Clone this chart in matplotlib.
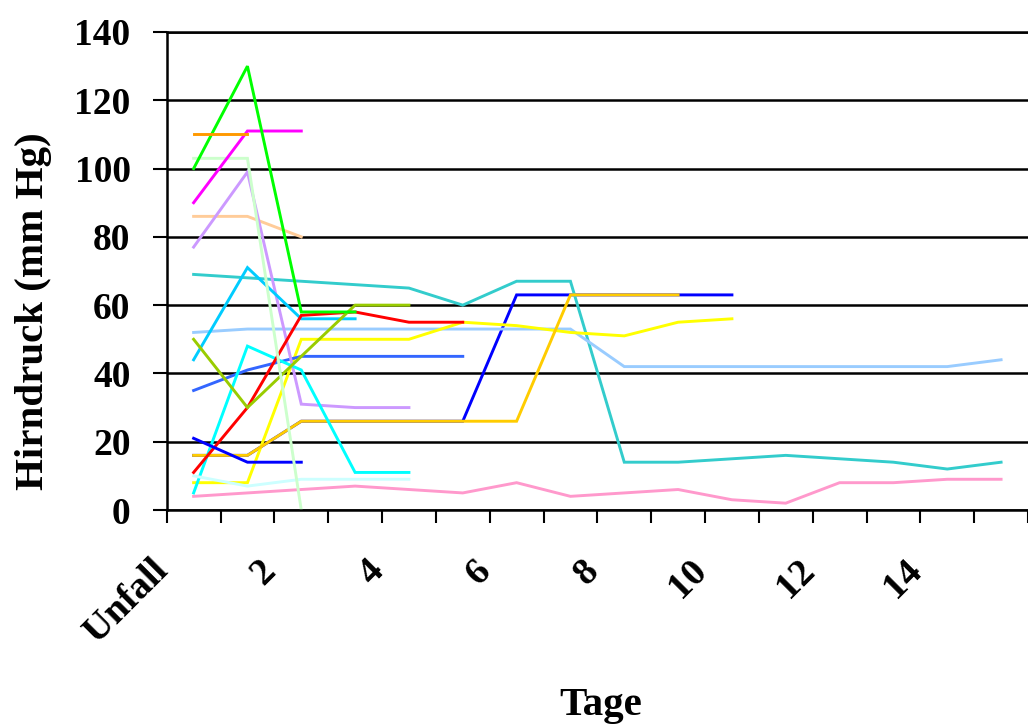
import matplotlib.pyplot as plt
import matplotlib.transforms as mtransforms
import numpy as np

# categories: Unfall, day 1 ... day 15
tage = ['Unfall'] + [str(d) for d in range(1, 16)]

# Hirndruck (mm Hg) per patient, starting at "Unfall"
p_blau_lang = [16, 16, 26, 26, 26, 26, 63, 63, 63, 63, 63]
p_gruen = [100, 130, 58, 58]
p_magenta = [90, 111, 111]
p_orange = [110, 110]
p_hellgruen = [103, 103, 0]
p_lavendel = [77, 99, 31, 30, 30]
p_pfirsich = [86, 86, 80]
p_tuerkis = [69, 68, 67, 66, 65, 60, 67, 67, 14, 14, 15, 16, 15, 14, 12, 14]
p_himmelblau = [44, 71, 56, 56]
p_rot = [11, 30, 57, 58, 55, 55]
p_oliv = [50, 30, 45, 60, 60]
p_hellblau = [52, 53, 53, 53, 53, 53, 53, 53, 42, 42, 42, 42, 42, 42, 42, 44]
p_gelb = [8, 8, 50, 50, 50, 55, 54, 52, 51, 55, 56]
p_cyan = [5, 48, 41, 11, 11]
p_koenigsblau = [35, 41, 45, 45, 45, 45]
p_blau = [21, 14, 14]
p_gold = [16, 16, 26, 26, 26, 26, 26, 63, 63, 63]
p_blasscyan = [10, 7, 9, 9, 9]
p_rosa = [4, 5, 6, 7, 6, 5, 8, 4, 5, 6, 3, 2, 8, 8, 9, 9]

serien = [
    (p_blau_lang, '#0000FF'),
    (p_tuerkis, '#33CCCC'),
    (p_hellblau, '#99CCFF'),
    (p_gelb, '#FFFF00'),
    (p_gold, '#FFCC00'),
    (p_rosa, '#FF99CC'),
    (p_koenigsblau, '#3366FF'),
    (p_pfirsich, '#FFCC99'),
    (p_lavendel, '#CC99FF'),
    (p_himmelblau, '#00CCFF'),
    (p_cyan, '#00FFFF'),
    (p_blasscyan, '#CCFFFF'),
    (p_rot, '#FF0000'),
    (p_oliv, '#99CC00'),
    (p_blau, '#0000FF'),
    (p_hellgruen, '#CCFFCC'),
    (p_magenta, '#FF00FF'),
    (p_gruen, '#00FF00'),
    (p_orange, '#FF9900'),
]

plt.rcParams['font.family'] = ['Liberation Serif', 'DejaVu Serif']
plt.rcParams['font.weight'] = 'bold'
plt.rcParams['axes.labelweight'] = 'bold'

fig = plt.figure(figsize=(10.28, 7.24), dpi=100)
W, H = 1028, 724
x0, y0, y1 = 166.7, 510, 32
step = 54.4
ax = fig.add_axes([x0 / W, (H - y0) / H, (W - x0) / W, (y0 - y1) / H])

for werte, farbe in serien:
    ax.plot(np.arange(len(werte)), werte, color=farbe, lw=2.1,
            solid_joinstyle='miter')

ax.set_xlim(-0.5, -0.5 + (W - x0) / step)
ax.set_ylim(0, 140)
ax.set_yticks(np.arange(0, 141, 20))
ax.yaxis.grid(True, color='black', lw=1.8)
ax.set_axisbelow(True)

for s in ['left', 'bottom', 'top']:
    ax.spines[s].set_linewidth(1.8)
ax.spines['right'].set_visible(False)

ax.tick_params(axis='y', length=10, width=1.5, pad=16, labelsize=27)

# tick marks between categories, labels on every second category
ax.set_xticks(np.arange(-0.5, 16, 1))
ax.set_xticklabels([])
ax.tick_params(axis='x', which='major', length=9, width=1.5)
ax.set_xticks(np.arange(0, 16, 2), minor=True)
ax.set_xticklabels(tage[::2], minor=True, rotation=45, ha='right',
                   va='top', rotation_mode='anchor', fontsize=27.5)
ax.tick_params(axis='x', which='minor', length=0, pad=31)
verschiebung = mtransforms.ScaledTranslation(-0.43, 0, fig.dpi_scale_trans)
for lbl in ax.get_xticklabels(minor=True):
    lbl.set_transform(lbl.get_transform() + verschiebung)

ax.set_ylabel('Hirndruck (mm Hg)', fontsize=29.5, va='baseline')
ax.yaxis.set_label_coords((43 - x0) / (W - x0), (y0 - 311) / (y0 - y1))
ax.set_xlabel('Tage', fontsize=29.5, va='baseline')
ax.xaxis.set_label_coords((601 - x0) / (W - x0), (y0 - 715) / (y0 - y1))

fig.savefig('out.png', dpi=100)
